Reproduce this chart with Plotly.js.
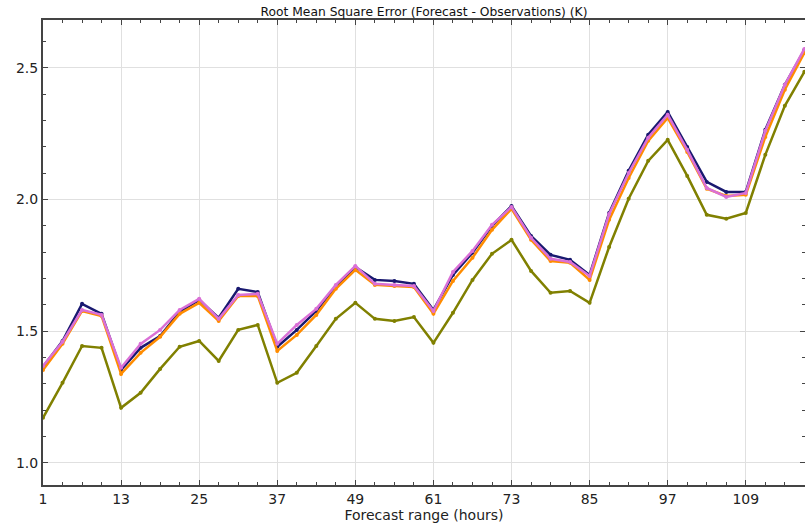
<!DOCTYPE html>
<html><head><meta charset="utf-8">
<script src="https://cdn.plot.ly/plotly-3.0.1.min.js"></script>
<style>html,body{margin:0;padding:0;background:#fff}#c{width:805px;height:524px}</style>
</head><body><div id="c"></div>
<script>
const hours = [1,4,7,10,13,16,19,22,25,28,31,34,37,40,43,46,49,52,55,58,61,64,67,70,73,76,79,82,85,88,91,94,97,100,103,106,109,112,115,118];
const navy = [1.365,1.463,1.604,1.566,1.353,1.437,1.482,1.573,1.619,1.551,1.661,1.649,1.441,1.505,1.577,1.672,1.744,1.695,1.691,1.680,1.581,1.714,1.798,1.900,1.976,1.862,1.790,1.771,1.714,1.949,2.109,2.246,2.333,2.200,2.067,2.029,2.029,2.265,2.436,2.568];
const orange = [1.353,1.452,1.577,1.558,1.338,1.418,1.479,1.566,1.608,1.539,1.634,1.634,1.425,1.486,1.562,1.661,1.733,1.676,1.672,1.668,1.566,1.691,1.779,1.885,1.965,1.847,1.767,1.760,1.695,1.923,2.082,2.223,2.310,2.181,2.041,2.014,2.018,2.238,2.417,2.557];
const orchid = [1.368,1.460,1.581,1.562,1.361,1.452,1.505,1.581,1.623,1.547,1.638,1.642,1.452,1.524,1.585,1.676,1.748,1.680,1.676,1.672,1.577,1.725,1.805,1.904,1.972,1.855,1.775,1.763,1.710,1.945,2.101,2.235,2.322,2.189,2.044,2.010,2.025,2.261,2.436,2.572];
const olive = [1.171,1.304,1.444,1.437,1.209,1.266,1.357,1.441,1.463,1.387,1.505,1.524,1.304,1.342,1.444,1.547,1.608,1.547,1.539,1.554,1.456,1.570,1.695,1.794,1.847,1.729,1.646,1.653,1.608,1.820,2.003,2.147,2.227,2.090,1.942,1.927,1.949,2.170,2.356,2.485];
const xTicks = [1,13,25,37,49,61,73,85,97,109];
const yTicks = [1.0,1.5,2.0,2.5];

function tr(y, color){
  return {x: hours, y: y, type:'scatter', mode:'lines+markers',
    line:{color:color, width:2.5}, marker:{color:color, size:4}, hoverinfo:'skip'};
}
const data = [tr(olive,'#808000'), tr(navy,'#191970'), tr(orange,'#ff8c00'), tr(orchid,'#da70d6')];
const font = "'DejaVu Sans', sans-serif";
const layout = {
  width:805, height:524,
  margin:{l:43, r:0, t:20, b:39},
  paper_bgcolor:'#fff', plot_bgcolor:'#fff',
  showlegend:false,
  font:{family:font, color:'#222'},
  title:{text:'Root Mean Square Error (Forecast - Observations) (K)', font:{size:12.3, family:font, color:'#111'}, xref:'paper', x:0.5, xanchor:'center', y:0.985, yanchor:'top'},
  xaxis:{range:[1,118.1], tickvals:xTicks, ticktext:xTicks.map(String),
    ticks:'inside', ticklen:5, tickcolor:'#444', showgrid:true, gridcolor:'#e0e0e0', gridwidth:1,
    showline:true, linecolor:'#444', linewidth:2, mirror:'ticks', zeroline:false,
    minor:{dtick:3, tick0:1, ticks:'inside', ticklen:3, tickcolor:'#444', showgrid:false},
    tickfont:{size:14, family:font, color:'#222'},
    title:{text:'Forecast range (hours)', font:{size:14, family:font, color:'#222'}, standoff:2}},
  yaxis:{range:[0.916,2.682], tickvals:yTicks, ticktext:yTicks.map(v=>v.toFixed(1)),
    ticks:'inside', ticklen:5, tickcolor:'#444', showgrid:true, gridcolor:'#e0e0e0', gridwidth:1,
    showline:true, linecolor:'#444', linewidth:2, mirror:'ticks', zeroline:false,
    minor:{dtick:0.1, tick0:1.0, ticks:'inside', ticklen:3, tickcolor:'#444', showgrid:false},
    tickfont:{size:14, family:font, color:'#222'}}
};
Plotly.newPlot('c', data, layout, {staticPlot:true});
</script></body></html>
